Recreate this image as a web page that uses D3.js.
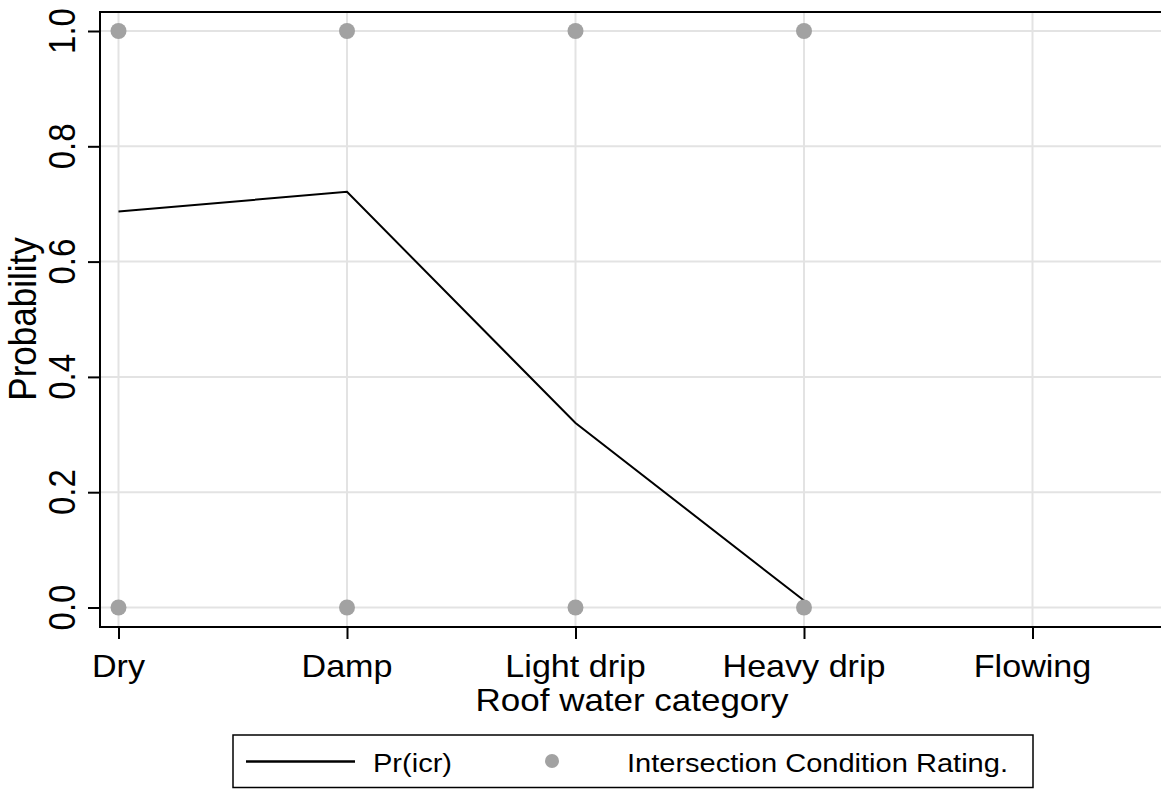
<!DOCTYPE html>
<html>
<head>
<meta charset="utf-8">
<script src="https://cdn.jsdelivr.net/npm/d3@7"></script>
<style>
  html, body { margin: 0; padding: 0; background: #fff; }
  svg { display: block; }
  text { font-family: "Liberation Sans", Arial, sans-serif; fill: #000; }
</style>
</head>
<body>
<svg id="chart" width="1161" height="789"></svg>
<script>
// Roof water categories on the x axis
const categories = ["Dry", "Damp", "Light drip", "Heavy drip", "Flowing"];

// Predicted probability Pr(icr) per category
const predCategories = ["Dry", "Damp", "Light drip", "Heavy drip"];
const predValues = [0.687, 0.721, 0.320, 0.012];

// Observed Intersection Condition Rating (0/1) per category
const obsCategories = ["Dry", "Dry", "Damp", "Damp", "Light drip", "Light drip", "Heavy drip", "Heavy drip"];
const obsValues = [1, 0, 1, 0, 1, 0, 1, 0];

// Y axis tick labels
const yTicks = [0, 0.2, 0.4, 0.6, 0.8, 1.0];

const svg = d3.select("#chart");
const W = 1161;

const frame = { left: 100, top: 12, bottom: 627, right: W + 2 };
const sx = 1.1; // horizontal stretch of the lettering

const x = d3.scalePoint().domain(categories).range([118.5, 1032.5]).padding(0);
const y = d3.scaleLinear().domain([0, 1]).range([607.5, 31]);

const gridColor = "#e3e3e3";

// Gridlines
svg.append("g")
  .selectAll("line")
  .data(yTicks)
  .join("line")
  .attr("x1", frame.left).attr("x2", frame.right)
  .attr("y1", d => y(d)).attr("y2", d => y(d))
  .attr("stroke", gridColor).attr("stroke-width", 2);

svg.append("g")
  .selectAll("line")
  .data(categories)
  .join("line")
  .attr("x1", d => x(d)).attr("x2", d => x(d))
  .attr("y1", frame.top).attr("y2", frame.bottom)
  .attr("stroke", gridColor).attr("stroke-width", 2);

// Frame: top edge
svg.append("line")
  .attr("x1", frame.left).attr("x2", frame.right)
  .attr("y1", frame.top).attr("y2", frame.top)
  .attr("stroke", "#000").attr("stroke-width", 2);

// Left axis
const yAxis = svg.append("g")
  .attr("transform", `translate(${frame.left},0)`)
  .call(d3.axisLeft(y).tickValues(yTicks).tickSize(12).tickFormat(""));
yAxis.select(".domain").remove();
yAxis.selectAll(".tick line").attr("stroke", "#000").attr("stroke-width", 2);
svg.append("line")
  .attr("x1", frame.left).attr("x2", frame.left)
  .attr("y1", frame.top - 1).attr("y2", frame.bottom + 1)
  .attr("stroke", "#000").attr("stroke-width", 2);

// Bottom axis
const xAxis = svg.append("g")
  .attr("transform", `translate(0,${frame.bottom})`)
  .call(d3.axisBottom(x).tickSize(12).tickFormat(""));
xAxis.select(".domain").remove();
xAxis.selectAll(".tick line").attr("stroke", "#000").attr("stroke-width", 2);
svg.append("line")
  .attr("x1", frame.left - 1).attr("x2", frame.right)
  .attr("y1", frame.bottom).attr("y2", frame.bottom)
  .attr("stroke", "#000").attr("stroke-width", 2);

// Y tick labels (rotated)
svg.append("g")
  .selectAll("text")
  .data(yTicks)
  .join("text")
  .attr("transform", d => `translate(75,${y(d)}) scale(${sx},1) rotate(-90)`)
  .attr("text-anchor", "middle")
  .attr("font-size", 33)
  .text(d => d3.format(".1f")(d));

// X tick labels
svg.append("g")
  .selectAll("text")
  .data(categories)
  .join("text")
  .attr("transform", d => `translate(${x(d)},677) scale(${sx},1)`)
  .attr("text-anchor", "middle")
  .attr("font-size", 31)
  .text(d => d);

// Axis titles
svg.append("text")
  .attr("transform", `translate(632,711) scale(${sx},1)`)
  .attr("text-anchor", "middle")
  .attr("font-size", 31.8)
  .text("Roof water category");

svg.append("text")
  .attr("transform", `translate(36,319) scale(${sx},1) rotate(-90)`)
  .attr("text-anchor", "middle")
  .attr("font-size", 35)
  .text("Probability");

// Predicted probability line
const line = d3.line()
  .x(d => x(d.c))
  .y(d => y(d.v));
svg.append("path")
  .datum(predCategories.map((c, i) => ({ c, v: predValues[i] })))
  .attr("d", line)
  .attr("fill", "none")
  .attr("stroke", "#000")
  .attr("stroke-width", 2);

// Observed points
svg.append("g")
  .selectAll("circle")
  .data(obsCategories.map((c, i) => ({ c, v: obsValues[i] })))
  .join("circle")
  .attr("cx", d => x(d.c))
  .attr("cy", d => y(d.v))
  .attr("r", 8)
  .attr("fill", "#a2a2a2");

// Legend
const lg = svg.append("g");
lg.append("rect")
  .attr("x", 233).attr("y", 735)
  .attr("width", 800).attr("height", 52.5)
  .attr("fill", "#fff")
  .attr("stroke", "#000").attr("stroke-width", 1.5);
lg.append("line")
  .attr("x1", 246).attr("x2", 355)
  .attr("y1", 761.5).attr("y2", 761.5)
  .attr("stroke", "#000").attr("stroke-width", 2.5);
lg.append("text")
  .attr("transform", `translate(373,772) scale(${sx},1)`)
  .attr("font-size", 26.4)
  .text("Pr(icr)");
lg.append("circle")
  .attr("cx", 552).attr("cy", 761)
  .attr("r", 7)
  .attr("fill", "#a2a2a2");
lg.append("text")
  .attr("transform", `translate(627,772) scale(${sx},1)`)
  .attr("font-size", 26.4)
  .text("Intersection Condition Rating.");
</script>
</body>
</html>
